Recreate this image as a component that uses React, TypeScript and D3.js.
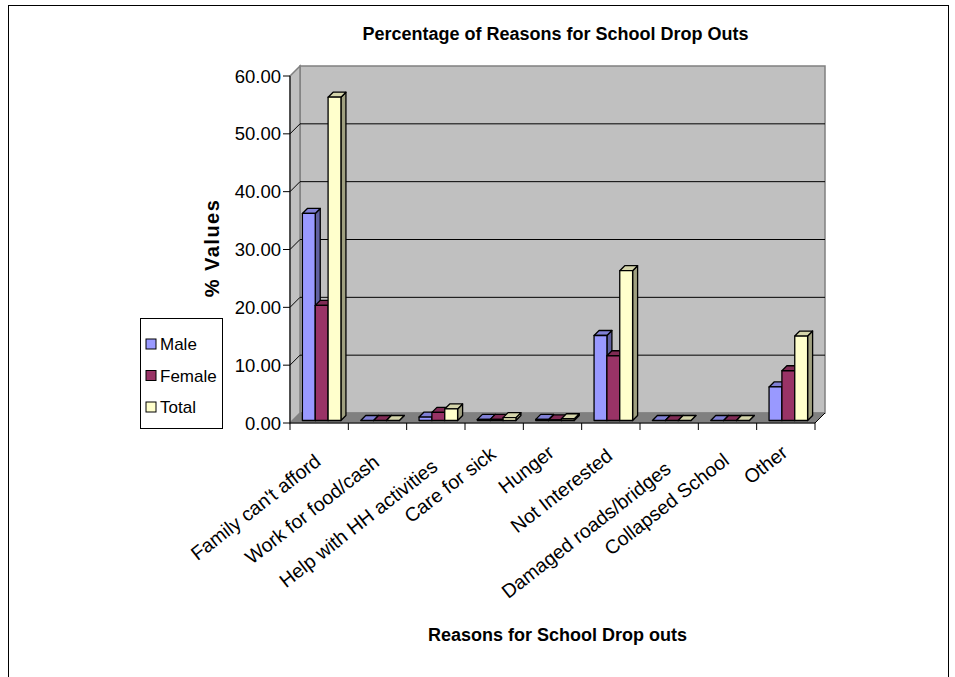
import React from "react";
import * as d3 from "d3";

// Reasons for dropping out of school, in percent
const categories = [
  "Family can't afford",
  "Work for food/cash",
  "Help with HH activities",
  "Care for sick",
  "Hunger",
  "Not Interested",
  "Damaged roads/bridges",
  "Collapsed School",
  "Other",
];
const seriesNames = ["Male", "Female", "Total"];
const maleValues = [35.8, 0, 0.6, 0.2, 0.2, 14.7, 0, 0, 5.8];
const femaleValues = [19.9, 0, 1.4, 0.2, 0.1, 11.2, 0, 0, 8.6];
const totalValues = [55.9, 0, 2.0, 0.5, 0.3, 25.9, 0, 0, 14.6];
const yTicks = [0, 10, 20, 30, 40, 50, 60];

const seriesColors = ["#9999ff", "#993366", "#ffffcc"];
const FONT = "Arial, 'Liberation Sans', sans-serif";

const LABEL_SIZE = 19.5;
const LABEL_ANGLE = -38;

// width of a category label, used to place the rotated text
function labelWidth(s: string): number {
  try {
    const ctx = document.createElement("canvas").getContext("2d");
    if (ctx) {
      ctx.font = `${LABEL_SIZE}px Arial, 'Liberation Sans', sans-serif`;
      return ctx.measureText(s).width;
    }
  } catch (e) {
    /* fall through */
  }
  return s.length * LABEL_SIZE * 0.5;
}

export default function App() {
  const W = 955;
  const H = 677;

  // front plane of the 3D box
  const left = 290;
  const right = 815;
  const bottom = 423;
  const top = 76;
  // depth offset of the back wall
  const DX = 10;
  const DY = -10;
  // bar depth range as fraction of floor depth
  const barFront = 0.25;
  const barBack = 0.75;

  const y = d3.scaleLinear().domain([0, 60]).range([bottom, top]);
  const x = d3.scaleBand<string>().domain(categories).range([left, right]).padding(0);
  const inner = d3
    .scaleBand<string>()
    .domain(seriesNames)
    .range([0, x.bandwidth()])
    .paddingInner(0)
    .paddingOuter(0.77);

  const seriesData = [maleValues, femaleValues, totalValues];

  const pts = (arr: [number, number][]) => arr.map((p) => p.join(",")).join(" ");

  // back wall, side wall and floor
  const backWall = pts([
    [left + DX, y(60) + DY],
    [right + DX, y(60) + DY],
    [right + DX, bottom + DY],
    [left + DX, bottom + DY],
  ]);
  const sideWall = pts([
    [left, y(60)],
    [left + DX, y(60) + DY],
    [left + DX, bottom + DY],
    [left, bottom],
  ]);
  const floor = pts([
    [left, bottom],
    [left + DX, bottom + DY],
    [right + DX, bottom + DY],
    [right, bottom],
  ]);

  const bars: React.ReactNode[] = [];
  categories.forEach((cat, i) => {
    seriesNames.forEach((s, j) => {
      const v = seriesData[j][i];
      const fx = x(cat)! + inner(s)! + DX * barFront;
      const w = inner.bandwidth();
      const baseY = y(0) + DY * barFront;
      const topY = y(v) + DY * barFront;
      const dx = DX * (barBack - barFront);
      const dy = DY * (barBack - barFront);
      const base = d3.rgb(seriesColors[j]);
      const topC = base.darker(0.5).formatHex();
      const sideC = base.darker(1.3).formatHex();
      bars.push(
        <g key={`${i}-${j}`} stroke="#000" strokeWidth={1.3} strokeLinejoin="round">
          <polygon
            points={pts([
              [fx + w, topY],
              [fx + w + dx, topY + dy],
              [fx + w + dx, baseY + dy],
              [fx + w, baseY],
            ])}
            fill={sideC}
          />
          <polygon
            points={pts([
              [fx, topY],
              [fx + dx, topY + dy],
              [fx + w + dx, topY + dy],
              [fx + w, topY],
            ])}
            fill={topC}
          />
          <rect x={fx} y={topY} width={w} height={Math.max(0, baseY - topY)} fill={seriesColors[j]} />
        </g>
      );
    });
  });

  return (
    <svg
      width={W}
      height={H}
      style={{ position: "absolute", left: 0, top: 0, background: "#fff" }}
      fontFamily={FONT}
    >
      <rect x={8.5} y={5.5} width={940} height={720} fill="#fff" stroke="#000" strokeWidth={1} />

      <text x={555.5} y={40} textAnchor="middle" fontSize={18} fontWeight="bold">
        Percentage of Reasons for School Drop Outs
      </text>

      {/* walls and floor */}
      <polygon points={backWall} fill="#c0c0c0" stroke="#808080" strokeWidth={1.5} />
      <polygon points={sideWall} fill="#c0c0c0" stroke="#808080" strokeWidth={1.5} />
      <polygon points={floor} fill="#808080" stroke="#808080" strokeWidth={1} />

      {/* gridlines */}
      {yTicks.slice(1, -1).map((t) => (
        <g key={t} stroke="#000" strokeWidth={1}>
          <line x1={left + DX} x2={right + DX} y1={y(t) + DY} y2={y(t) + DY} />
          <line x1={left} x2={left + DX} y1={y(t)} y2={y(t) + DY} />
        </g>
      ))}

      {bars}

      {/* value axis */}
      <line x1={left} x2={left} y1={top} y2={bottom} stroke="#000" strokeWidth={1} />
      {yTicks.map((t) => (
        <g key={t}>
          <line x1={left - 7} x2={left} y1={y(t)} y2={y(t)} stroke="#000" />
          <text x={281} y={y(t) + 6.5} textAnchor="end" fontSize={18.5}>
            {t.toFixed(2)}
          </text>
        </g>
      ))}

      {/* category axis */}
      <line x1={left} x2={right} y1={bottom} y2={bottom} stroke="#000" strokeWidth={1} />
      <line x1={right} x2={right + DX} y1={bottom} y2={bottom + DY} stroke="#000" strokeWidth={1} />
      {categories.concat([""]).map((c, i) => {
        const xx = left + i * x.step();
        return <line key={i} x1={xx} x2={xx} y1={bottom} y2={bottom + 7} stroke="#000" />;
      })}
      {categories.map((c) => {
        const cx = x(c)! + x.bandwidth() / 2;
        const L = labelWidth(c);
        const ey = 455 + 0.15 * Math.max(0, L - 100);
        return (
          <text
            key={c}
            transform={`translate(${cx + 3},${ey}) rotate(${LABEL_ANGLE})`}
            textAnchor="end"
            fontSize={LABEL_SIZE}
          >
            {c}
          </text>
        );
      })}

      <text
        transform="translate(219,248) rotate(-90)"
        textAnchor="middle"
        fontSize={20}
        fontWeight="bold"
        letterSpacing={1.5}
      >
        % Values
      </text>

      <text x={557.5} y={641} textAnchor="middle" fontSize={18} fontWeight="bold">
        Reasons for School Drop outs
      </text>

      {/* legend */}
      <g>
        <rect x={140.5} y={318.5} width={82} height={110} fill="#fff" stroke="#000" />
        {seriesNames.map((s, j) => (
          <g key={s} transform={`translate(146,${344 + j * 31.5})`}>
            <rect x={0} y={-5} width={10} height={10} fill={seriesColors[j]} stroke="#000" />
            <text x={14} y={6} fontSize={17}>
              {s}
            </text>
          </g>
        ))}
      </g>
    </svg>
  );
}
